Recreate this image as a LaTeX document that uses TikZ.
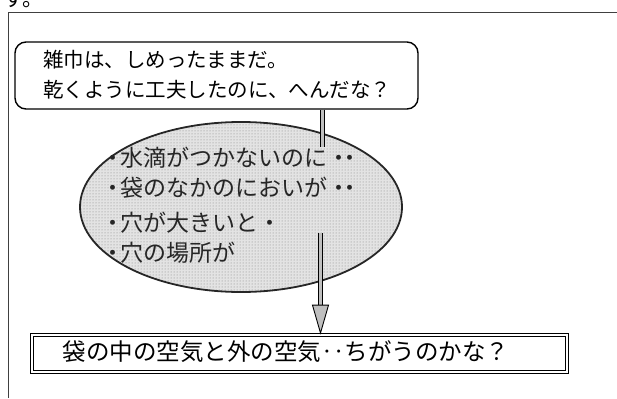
\documentclass[tikz,border=0pt]{standalone}
\usepackage{fontspec}
\setmainfont{Noto Sans CJK JP}
\usetikzlibrary{arrows.meta,shapes.geometric,patterns}
\begin{document}
\begin{tikzpicture}[x=1pt,y=-1pt,
  qbox/.style={draw=black, line width=1.4pt, rounded corners=11pt, inner sep=0pt},
  bubble/.style={ellipse, draw=black!85, line width=1.8pt, inner sep=0pt,
    preaction={fill=gray!22}, pattern=dots, pattern color=gray},
  dbox/.style={draw=black, line width=0.7pt, double=white, double distance=2.2pt, inner sep=0pt},
  txtA/.style={anchor=west, inner sep=0pt, font=\fontsize{20.5}{24}\selectfont},
  txtB/.style={anchor=west, inner sep=0pt, font=\fontsize{23}{27}\selectfont, text=black!85},
  txtC/.style={anchor=center, inner sep=0pt, font=\fontsize{23.5}{27}\selectfont},
  frame/.style={draw=black!75, line width=0.8pt},
  barshaft/.style={draw=black, line width=0.9pt, double=gray!50, double distance=3.8pt},
  bartip/.style={draw=black, line width=0.9pt, -{Triangle[width=17pt,length=30pt,fill=gray!50]}}
]
\useasboundingbox (0,0) rectangle (617,398);
% cut-off text at top
\begin{scope}
  \clip (0,0) rectangle (617,8.5);
  \node[anchor=base west, inner sep=0pt, font=\fontsize{21}{24}\selectfont] (top) at (3,6.5) {す。};
\end{scope}
% outer frame
\draw[frame] (8,398) -- (8,12) -- (617,12);
% top rounded box
\node[qbox, minimum width=403pt, minimum height=67pt] (q1) at (216.5,75.5) {};
\node[txtA] (t1) at (43,60) {雑巾は、しめったままだ。};
\node[txtA] (t2) at (43,90) {乾くように工夫したのに、へんだな？};
% ellipse
\node[bubble, minimum width=322pt, minimum height=170pt] (q2) at (241,207) {};
\node[txtB] (e1) at (101,158) {・\kern-4pt 水滴がつかないのに・\kern-12pt ・};
\node[txtB] (e2) at (101,188) {・\kern-4pt 袋のなかのにおいが・\kern-12pt ・};
\node[txtB] (e3) at (101,223) {・\kern-4pt 穴が大きいと・};
\node[txtB] (e4) at (101,253) {・\kern-4pt 穴の場所が};
% bottom box
\node[dbox, minimum width=535pt, minimum height=37pt] (q3) at (299.5,353.5) {};
\node[txtC] (t3) at (286,352) {袋の中の空気と外の空気‥ちがうのかな？};
% connectors
\coordinate (c1) at (322.5,147);
\draw[barshaft] (q1.south -| c1) -- (c1);
\coordinate (c2) at (320.5,233);
\coordinate (c3) at (320.5,306);
\draw[barshaft] (c2) -- (c3);
\draw[bartip] (c3) -- (q3.north -| c3);
\end{tikzpicture}
\end{document}
